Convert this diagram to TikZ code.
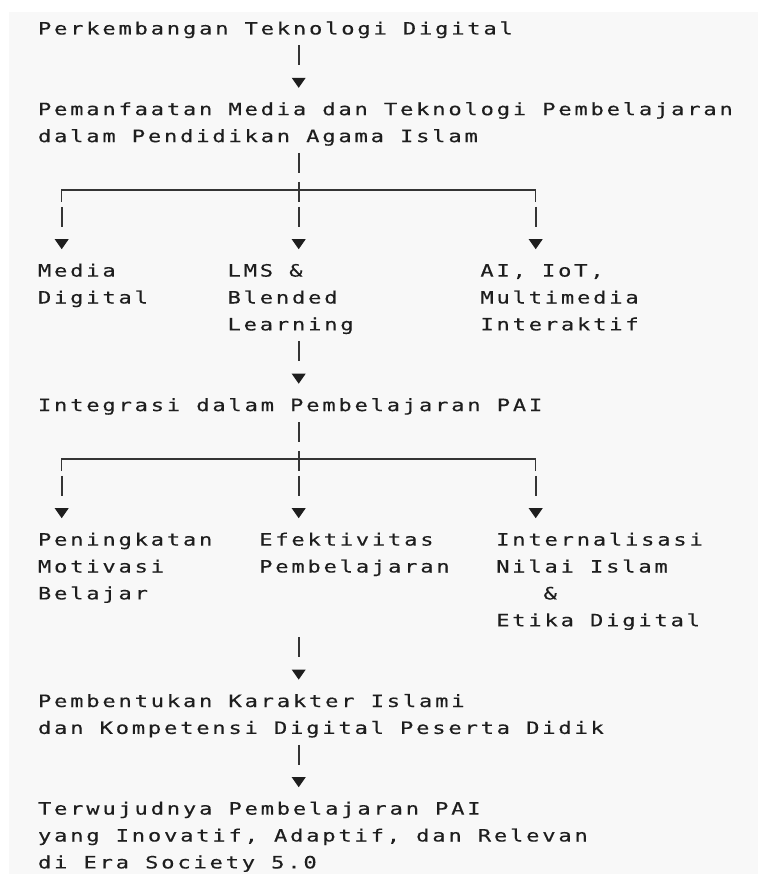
\documentclass[tikz,border=0pt]{standalone}
\usepackage{fontspec}
\newfontfamily\dmono[FakeStretch=1.3,LetterSpace=16.5,FakeBold=0.3]{DejaVu Sans Mono}
\definecolor{ink}{HTML}{1E1E1E}
\definecolor{bg}{HTML}{F8F8F8}
\tikzset{
  tl/.style={anchor=base west, inner sep=0pt, outer sep=0pt, text=ink, font=\dmono\fontsize{17}{26.9}\selectfont},
  barline/.style={draw=ink!90, line width=1.8pt},
  hline/.style={draw=ink!90, line width=1.3pt},
}
\newcommand{\ptext}[4]{\node[tl] (#1) at ({38+#2*15.8},{-34.5-#3*26.9}) {#4};}
\newcommand{\pbar}[2]{\draw[barline] ({38+(#1+0.5)*15.8},{-34.5-#2*26.9+16}) -- ++(0,-20);}
\newcommand{\ptri}[2]{\fill[ink] ({38+(#1+0.5)*15.8-7},{-34.5-#2*26.9+10.5}) -- ++(14,0) -- ++(-7,-10) -- cycle;}
\newcommand{\pfork}[1]{%
  \draw[hline] ({38+1.5*15.8},{-34.5-#1*26.9-6}) -- ({38+1.5*15.8},{-34.5-#1*26.9+6}) -- ({38+31.5*15.8},{-34.5-#1*26.9+6}) -- ({38+31.5*15.8},{-34.5-#1*26.9-6});
  \draw[barline] ({38+16.5*15.8},{-34.5-#1*26.9+14}) -- ++(0,-20);}
\begin{document}
\begin{tikzpicture}[x=1pt,y=1pt]
\useasboundingbox (0,0) rectangle (758,-874);
\fill[white] (0,0) rectangle (758,-874);
\fill[bg] (9,-12) rectangle (758,-874);
\ptext{t0}{0}{0}{Perkembangan Teknologi Digital}
\pbar{16}{1}
\ptri{16}{2}
\ptext{t3}{0}{3}{Pemanfaatan Media dan Teknologi Pembelajaran}
\ptext{t4}{0}{4}{dalam Pendidikan Agama Islam}
\pbar{16}{5}
\pfork{6}
\pbar{1}{7}\pbar{16}{7}\pbar{31}{7}
\ptri{1}{8}\ptri{16}{8}\ptri{31}{8}
\ptext{a1}{0}{9}{Media}
\ptext{a2}{0}{10}{Digital}
\ptext{b1}{12}{9}{LMS \&}
\ptext{b2}{12}{10}{Blended}
\ptext{b3}{12}{11}{Learning}
\ptext{c1}{28}{9}{AI, IoT,}
\ptext{c2}{28}{10}{Multimedia}
\ptext{c3}{28}{11}{Interaktif}
\pbar{16}{12}
\ptri{16}{13}
\ptext{t14}{0}{14}{Integrasi dalam Pembelajaran PAI}
\pbar{16}{15}
\pfork{16}
\pbar{1}{17}\pbar{16}{17}\pbar{31}{17}
\ptri{1}{18}\ptri{16}{18}\ptri{31}{18}
\ptext{d1}{0}{19}{Peningkatan}
\ptext{d2}{0}{20}{Motivasi}
\ptext{d3}{0}{21}{Belajar}
\ptext{e1}{14}{19}{Efektivitas}
\ptext{e2}{14}{20}{Pembelajaran}
\ptext{f1}{29}{19}{Internalisasi}
\ptext{f2}{29}{20}{Nilai Islam}
\ptext{f3}{32}{21}{\&}
\ptext{f4}{29}{22}{Etika Digital}
\pbar{16}{23}
\ptri{16}{24}
\ptext{t25}{0}{25}{Pembentukan Karakter Islami}
\ptext{t26}{0}{26}{dan Kompetensi Digital Peserta Didik}
\pbar{16}{27}
\ptri{16}{28}
\ptext{t29}{0}{29}{Terwujudnya Pembelajaran PAI}
\ptext{t30}{0}{30}{yang Inovatif, Adaptif, dan Relevan}
\ptext{t31}{0}{31}{di Era Society 5.0}
\end{tikzpicture}
\end{document}
